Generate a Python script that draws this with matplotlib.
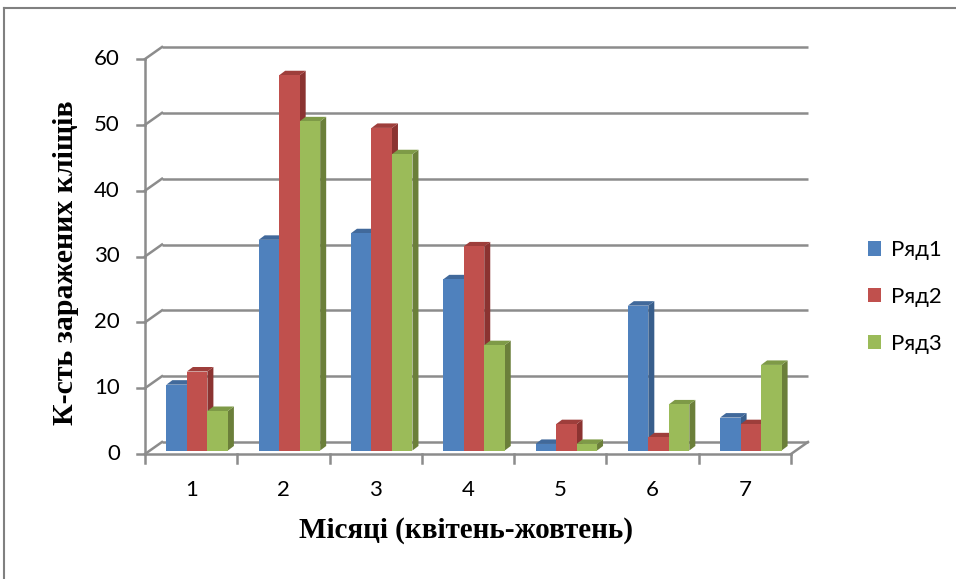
import matplotlib
matplotlib.use("Agg")
import matplotlib.pyplot as plt
from matplotlib.patches import Polygon, Patch
from matplotlib.lines import Line2D

# ---- data ----
months = ["1", "2", "3", "4", "5", "6", "7"]
series_names = ["Ряд1", "Ряд2", "Ряд3"]
row1 = [10, 32, 33, 26, 1, 22, 5]
row2 = [12, 57, 49, 31, 4, 2, 4]
row3 = [6, 50, 45, 16, 1, 7, 13]
y_ticks = [0, 10, 20, 30, 40, 50, 60]
x_title = "Місяці (квітень-жовтень)"
y_title = "К-сть заражених кліщів"

# ---- styling ----
front_cols = ["#4F81BD", "#C0504D", "#9BBB59"]
side_cols = ["#385E8C", "#8B3331", "#6B7F3A"]
top_cols = ["#41699B", "#9E3E3B", "#7E9A47"]
grid_col = "#8C8C8C"
sans = ["Lato", "Noto Sans", "DejaVu Sans"]
serif = ["Liberation Serif", "DejaVu Serif"]

W, H = 956, 579
fig = plt.figure(figsize=(W / 100, H / 100), dpi=100)

# front plane of the 3D box in pixel coordinates
fx0, fx1 = 145, 791
fy0, fy1 = 454, 59
ax = fig.add_axes([fx0 / W, 1 - fy0 / H, (fx1 - fx0) / W, (fy0 - fy1) / H])
ax.set_xlim(-0.5, len(months) - 0.5)
ax.set_ylim(0, 60)
ax.axis("off")

# pixel -> data unit conversion
ux = (len(months)) / (fx1 - fx0)
uy = 60 / (fy0 - fy1)

# oblique depth of the box and of the bars (pixels)
back_dx, back_dy = 17 * ux, 12 * uy
bar_dx, bar_dy = 6 * ux, 3.5 * uy
depth_dx, depth_dy = 6 * ux, 4.5 * uy

lw = 1.8
x_left = -0.5
x_right = len(months) - 0.5

# back wall gridlines and their diagonals to the front axis
for v in y_ticks:
    ax.plot([x_left + back_dx, x_right + back_dx], [v + back_dy, v + back_dy],
            color=grid_col, lw=lw, clip_on=False, solid_capstyle="butt", zorder=1)
    ax.plot([x_left, x_left + back_dx], [v, v + back_dy],
            color=grid_col, lw=lw, clip_on=False, zorder=1)
    ax.plot([x_left - 8 * ux, x_left], [v, v],
            color=grid_col, lw=lw, clip_on=False, zorder=1)
    ax.text(x_left - 25 * ux, v, str(v), ha="right", va="center",
            fontsize=16, family=sans, color="#000000")

# front vertical axis
ax.plot([x_left, x_left], [0, 60], color=grid_col, lw=lw, clip_on=False, zorder=1)
# floor: front edge and right edge
ax.plot([x_left, x_right], [0, 0], color=grid_col, lw=lw, clip_on=False, zorder=5)
ax.plot([x_right, x_right + back_dx], [0, back_dy], color=grid_col, lw=lw,
        clip_on=False, zorder=5)
# category tick marks on the front edge
for k in range(len(months) + 1):
    ax.plot([x_left + k, x_left + k], [0, -9 * uy], color=grid_col, lw=lw,
            clip_on=False, zorder=5)
for k, m in enumerate(months):
    ax.text(k, -36 * uy, m, ha="center", va="center", fontsize=16,
            family=sans, color="#000000")

# 3D clustered columns
bw = 20.5 * ux
series = [row1, row2, row3]
for k in range(len(months)):
    start = k + bar_dx - 1.5 * bw
    for s, vals in enumerate(series):
        v = vals[k]
        x0 = start + s * bw
        y0 = bar_dy
        y1 = bar_dy + v
        z = 3 + k * 0.1 + s * 0.01
        side = Polygon([(x0 + bw, y0), (x0 + bw + depth_dx, y0 + depth_dy),
                        (x0 + bw + depth_dx, y1 + depth_dy), (x0 + bw, y1)],
                       closed=True, facecolor=side_cols[s], edgecolor="none",
                       clip_on=False, zorder=z)
        top = Polygon([(x0, y1), (x0 + depth_dx, y1 + depth_dy),
                       (x0 + bw + depth_dx, y1 + depth_dy), (x0 + bw, y1)],
                      closed=True, facecolor=top_cols[s], edgecolor="none",
                      clip_on=False, zorder=z)
        ax.add_patch(side)
        ax.add_patch(top)
        ax.bar(x0, v, width=bw, bottom=y0, align="edge", color=front_cols[s],
               edgecolor="none", clip_on=False, zorder=z + 0.001)

# axis titles
fig.text(466 / W, 1 - 530 / H, x_title, ha="center", va="center",
         fontsize=21, fontweight="bold", family=serif)
fig.text(66 / W, 1 - 263 / H, y_title, ha="center", va="center",
         rotation=90, fontsize=21.5, fontweight="bold", family=serif)

# legend
handles = [Patch(facecolor=c, edgecolor="none") for c in front_cols]
leg = fig.legend(handles, series_names, loc="center left",
                 bbox_to_anchor=(848 / W, 1 - 297 / H), frameon=False,
                 handlelength=0.6, handleheight=0.6, handletextpad=0.45,
                 labelspacing=1.2, prop={"family": sans, "size": 16})

# outer chart border (top and left edges visible)
fig.add_artist(Line2D([4 / W, 1], [1 - 8 / H, 1 - 8 / H], color="#808080",
                      lw=1.5, transform=fig.transFigure))
fig.add_artist(Line2D([4 / W, 4 / W], [0, 1 - 8 / H], color="#808080",
                      lw=1.5, transform=fig.transFigure))

fig.savefig("out.png", dpi=100)
